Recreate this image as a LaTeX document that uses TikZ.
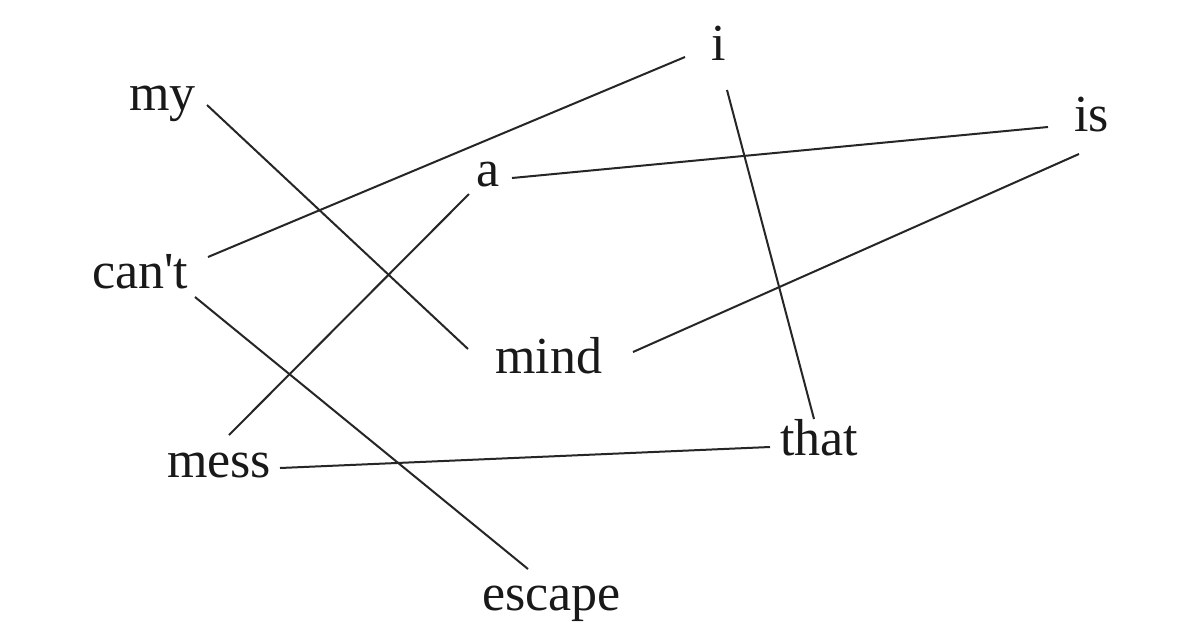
\documentclass[tikz,border=0pt]{standalone}
\usepackage{fontspec}
\setmainfont{Liberation Serif}
\begin{document}
\begin{tikzpicture}[x=1pt,y=-1pt,
  word/.style={anchor=base west,inner sep=0pt,font=\fontsize{52}{60}\selectfont,text=black!90},
  link/.style={draw=black!85,line width=2pt}]
\useasboundingbox[fill=white] (0,0) rectangle (1200,630);
% words
\node[word] (my) at (129,110) {my};
\node[word] (cant) at (92,288) {can\textquotesingle t};
\node[word] (a) at (476,186) {a};
\node[word] (i) at (711,60) {i};
\node[word] (is) at (1074,131) {is};
\node[word] (mind) at (495,373) {mind};
\node[word] (mess) at (167,477) {mess};
\node[word] (that) at (780,455) {that};
\node[word] (escape) at (482,610) {escape};
% connector ends
\coordinate (my-e) at (207,105);
\coordinate (mind-w) at (468,349);
\coordinate (mind-e) at (633,352);
\coordinate (cant-ne) at (208,257);
\coordinate (cant-se) at (195,297);
\coordinate (i-w) at (685,57);
\coordinate (i-s) at (727,90);
\coordinate (a-e) at (512,178);
\coordinate (a-sw) at (469,194);
\coordinate (is-w) at (1048,127);
\coordinate (is-sw) at (1079,154);
\coordinate (that-n) at (814,419);
\coordinate (that-w) at (770,447);
\coordinate (mess-n) at (229,435);
\coordinate (mess-e) at (280,468);
\coordinate (escape-n) at (528,569);
% connectors
\draw[link] (my-e) -- (mind-w);
\draw[link] (cant-ne) -- (i-w);
\draw[link] (a-e) -- (is-w);
\draw[link] (i-s) -- (that-n);
\draw[link] (mind-e) -- (is-sw);
\draw[link] (mess-e) -- (that-w);
\draw[link] (cant-se) -- (escape-n);
\draw[link] (a-sw) -- (mess-n);
\end{tikzpicture}
\end{document}
